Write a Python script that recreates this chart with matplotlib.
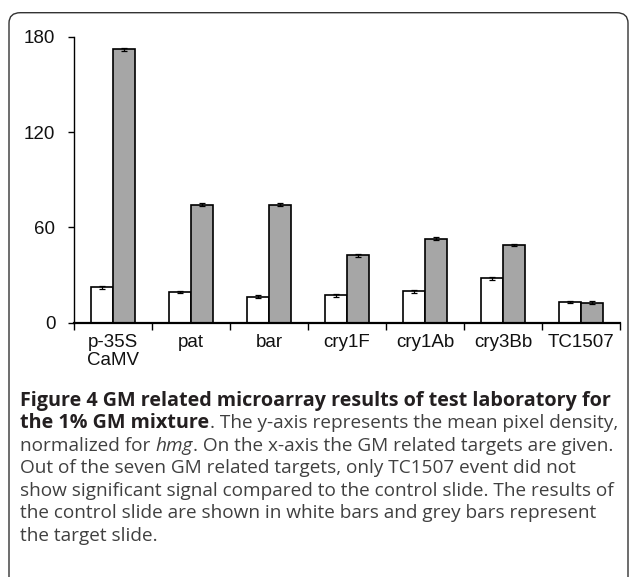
import matplotlib
matplotlib.use('Agg')
import matplotlib.pyplot as plt
from matplotlib.patches import FancyBboxPatch
import numpy as np

# data
targets = ['p-35S\nCaMV', 'pat', 'bar', 'cry1F', 'cry1Ab', 'cry3Bb', 'TC1507']
control = [22.2, 19.3, 16.4, 17.2, 19.7, 27.9, 13.0]
control_err = [0.9, 0.8, 0.8, 0.8, 0.8, 0.9, 0.8]
target = [172.2, 74.3, 74.3, 42.4, 52.9, 48.9, 12.6]
target_err = [0.9, 0.8, 0.8, 0.8, 0.8, 0.9, 0.8]
yticks = [0, 60, 120, 180]

caption = [
    [("Figure 4 GM related microarray results of test laboratory for", 'bold')],
    [("the 1% GM mixture", 'bold'), (". The y-axis represents the mean pixel density,", 'normal')],
    [("normalized for", 'normal'), (" ", 'normal'), ("hmg", 'italic'),
     (". On the x-axis the GM related targets are given.", 'normal')],
    [("Out of the seven GM related targets, only TC1507 event did not", 'normal')],
    [("show significant signal compared to the control slide. The results of", 'normal')],
    [("the control slide are shown in white bars and grey bars represent", 'normal')],
    [("the target slide.", 'normal')],
]

W, H = 629, 577
fig = plt.figure(figsize=(W / 100, H / 100), dpi=100)

# axes placed in pixel terms
x0, x1 = 74.2, 620.0
ytop, ybot = 36.7, 322.7
ax = fig.add_axes([x0 / W, (H - ybot) / H, (x1 - x0) / W, (ybot - ytop) / H])

n = len(targets)
xc = np.arange(n) + 0.5
bw = 0.285
ax.bar(xc - bw / 2, control, bw, color='white', edgecolor='black', linewidth=1.2, zorder=2)
ax.bar(xc + bw / 2, target, bw, color='#a6a6a6', edgecolor='black', linewidth=1.2, zorder=2)
ax.errorbar(xc - bw / 2, control, yerr=control_err, fmt='none', ecolor='black',
            elinewidth=0.9, capsize=2.5, capthick=0.9, zorder=3)
ax.errorbar(xc + bw / 2, target, yerr=target_err, fmt='none', ecolor='black',
            elinewidth=0.9, capsize=2.5, capthick=0.9, zorder=3)

ax.set_xlim(0, n)
ax.set_ylim(0, 180)
for s in ['top', 'right']:
    ax.spines[s].set_visible(False)
ax.spines['left'].set_linewidth(1.0)
ax.spines['bottom'].set_linewidth(1.6)
ax.spines['bottom'].set_zorder(4)

ax.set_yticks(yticks)
ax.set_yticklabels([str(v) for v in yticks], fontfamily='Liberation Sans', fontsize=13.5,
                   color='#111111')
ax.tick_params(axis='y', direction='out', length=4.5, width=1.0, pad=9)

ax.set_xticks(xc)
ax.set_xticklabels(targets, fontfamily='Liberation Sans', fontsize=13.5, color='#111111',
                   linespacing=1.1, va='top')
ax.tick_params(axis='x', which='major', length=0, pad=8)
ax.set_xticks(np.arange(n + 1), minor=True)
ax.tick_params(axis='x', which='minor', direction='out', length=5, width=1.0)

# rounded frame around chart and caption
frame = FancyBboxPatch((9 / W, -20 / H), (628 - 9) / W, (H - 12.7 + 20) / H,
                       boxstyle='round,pad=0,rounding_size=0.018',
                       transform=fig.transFigure, facecolor='none',
                       edgecolor='#333333', linewidth=1.0, clip_on=False)
fig.patches.append(frame)

# caption, laid out run by run
renderer = fig.canvas.get_renderer()
cap_font = 'Open Sans'


def text_width(s, weight='normal', style='normal', size=10):
    t = fig.text(0, 0, s, fontfamily=cap_font, fontweight=weight, fontstyle=style, fontsize=size)
    w = t.get_window_extent(renderer).width
    t.remove()
    return w


left, right = 20.5, 614.0
bold_size = 10 * (right - left) / text_width(caption[0][0][0], 'bold')
reg_size = 10 * (right - left) / text_width(caption[4][0][0])

base0, step = 405.7, 22.5
for i, line in enumerate(caption):
    xpos = left
    ypix = H - (base0 + i * step)
    for txt, kind in line:
        weight = 'bold' if kind == 'bold' else 'normal'
        style = 'italic' if kind == 'italic' else 'normal'
        size = bold_size if kind == 'bold' else reg_size
        color = '#231f20' if kind == 'bold' else '#404040'
        if txt == ' ':
            xpos += text_width('x x', size=size) - text_width('xx', size=size)
            continue
        t = fig.text(xpos / W, ypix / H, txt, fontfamily=cap_font, fontweight=weight,
                     fontstyle=style, fontsize=size, color=color, va='baseline', ha='left')
        xpos = t.get_window_extent(renderer).x1

fig.savefig('out.png', dpi=100)
